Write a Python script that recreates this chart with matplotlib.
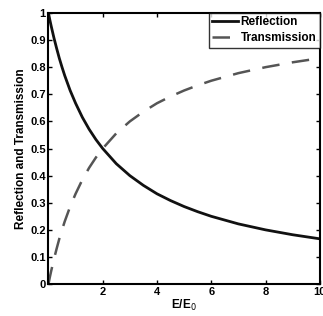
import matplotlib
matplotlib.use("Agg")
import matplotlib.pyplot as plt

plt.rcParams['font.family'] = ['Liberation Sans', 'DejaVu Sans']

energy = [0, 0.05, 0.1, 0.2, 0.3, 0.4, 0.5, 0.6, 0.8, 1.0, 1.25, 1.5, 1.75, 2.0, 2.5,
          3.0, 3.5, 4.0, 4.5, 5.0, 5.5, 6.0, 7.0, 8.0, 9.0, 10.0]
reflection = [1.0, 0.975, 0.952, 0.909, 0.870, 0.833, 0.800, 0.769, 0.714, 0.667, 0.615,
              0.571, 0.533, 0.500, 0.444, 0.400, 0.364, 0.333, 0.308, 0.286, 0.267,
              0.250, 0.222, 0.200, 0.182, 0.167]
transmission = [0.0, 0.025, 0.048, 0.091, 0.130, 0.167, 0.200, 0.231, 0.286, 0.333, 0.385,
                0.429, 0.467, 0.500, 0.556, 0.600, 0.636, 0.667, 0.692, 0.714, 0.733,
                0.750, 0.778, 0.800, 0.818, 0.833]
xticks = [2, 4, 6, 8, 10]
yticks = [0, 0.1, 0.2, 0.3, 0.4, 0.5, 0.6, 0.7, 0.8, 0.9, 1]
ytick_labels = ['0', '0.1', '0.2', '0.3', '0.4', '0.5', '0.6', '0.7', '0.8', '0.9', '1']

fig = plt.figure(figsize=(3.23, 3.16), dpi=100)
ax = fig.add_axes([0.150, 0.101, 0.840, 0.858])

ax.plot(energy, reflection, color='#111111', lw=2.0, label='Reflection')
ax.plot(energy, transmission, color='#555555', lw=1.8, dashes=(7, 5), label='Transmission')

ax.set_xlim(0, 10)
ax.set_ylim(0, 1)
ax.set_xticks(xticks)
ax.set_xticklabels([str(t) for t in xticks], fontsize=8, fontweight='bold')
ax.set_yticks(yticks)
ax.set_yticklabels(ytick_labels, fontsize=8, fontweight='bold')
ax.tick_params(direction='in', top=True, right=True, length=3, width=1, pad=2)
for s in ax.spines.values():
    s.set_linewidth(1.5)

ax.set_xlabel('E/E$_0$', fontsize=8.5, fontweight='bold', labelpad=1)
ax.set_ylabel('Reflection and Transmission', fontsize=8.5, fontweight='bold', labelpad=2)

leg = ax.legend(loc='upper right', fontsize=8.5, frameon=True, fancybox=False,
                edgecolor='black', handlelength=2.2, handletextpad=0.2,
                borderpad=0.3, labelspacing=0.3, borderaxespad=0.0)
leg.get_frame().set_linewidth(1.0)
for t in leg.get_texts():
    t.set_fontweight('bold')

fig.savefig('out.png', dpi=100)
